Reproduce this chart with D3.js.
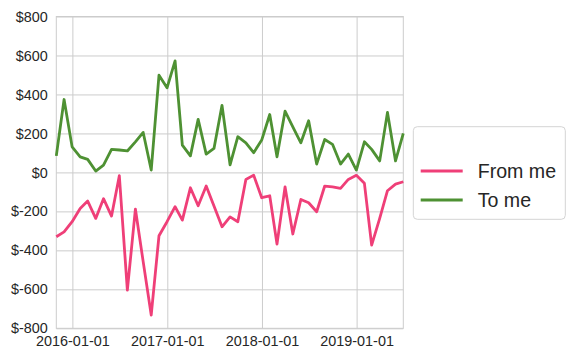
<!DOCTYPE html>
<html>
<head>
<meta charset="utf-8">
<script src="https://cdn.jsdelivr.net/npm/d3@7"></script>
<style>
  body { margin: 0; background: #fff; }
  text { font-family: "Liberation Sans", Arial, sans-serif; fill: #262626; }
  .grid line { stroke: #cccccc; stroke-width: 1; }
  .grid path { display: none; }
  .tick text { font-size: 14.4px; }
</style>
</head>
<body>
<div class="chart"></div>
<script>

//////////
// DATA //
//////////

// monthly totals, first month is Oct 2015 (month-end dates)
var firstMonth = '2015-10-31',
    monthCount = 45;

var fromMe = [-330, -305, -253, -185, -147, -236, -135, -224, -17, -604,
    -188, -458, -732, -325, -253, -176, -245, -79, -171, -70,
    -173, -279, -228, -253, -36, -14, -130, -120, -368, -74,
    -316, -139, -156, -202, -70, -74, -82, -36, -15, -56,
    -373, -236, -94, -60, -48];

var toMe = [85, 374, 131, 80, 67, 7, 37, 118, 115, 110,
    157, 205, 12, 499, 434, 572, 140, 85, 272, 94,
    123, 344, 39, 183, 152, 101, 166, 297, 80, 314,
    234, 152, 265, 43, 169, 144, 43, 94, 12, 157,
    118, 59, 308, 59, 200];

var yTicks = [-800, -600, -400, -200, 0, 200, 400, 600, 800];
var xTicks = ['2016-01-01', '2017-01-01', '2018-01-01', '2019-01-01'];

var seriesNames = ['From me', 'To me'],
    seriesColors = ['#ef3f78', '#4e9133'];

//////////////////////
// INITIAL SETTINGS //
//////////////////////

var W = 576, H = 360;
var plotLeft = 56.3, plotRight = 403.3, plotTop = 16.5, plotBottom = 328.3;

var parseDate = d3.utcParse('%Y-%m-%d'),
    formatDate = d3.utcFormat('%Y-%m-%d');

// month-end dates for each point
var startMonth = parseDate(firstMonth);
var dates = d3.range(monthCount).map(function(i) {
    return d3.utcDay.offset(d3.utcMonth.offset(d3.utcMonth.floor(startMonth), i + 1), -1);
});

///////////////////
// PAGE ELEMENTS //
///////////////////

var svg = d3.select('.chart')
    .append('svg')
    .attr('width', W)
    .attr('height', H);

////////////
// SCALES //
////////////

var xScale = d3.scaleUtc()
    .domain([dates[0], dates[dates.length - 1]])
    .range([plotLeft, plotRight]);

var yScale = d3.scaleLinear()
    .domain([-800, 800])
    .range([plotBottom, plotTop]);

//////////
// GRID //
//////////

svg.append('g')
    .attr('class', 'grid')
    .attr('transform', 'translate(0,' + plotBottom + ')')
    .call(d3.axisBottom(xScale)
        .tickValues(xTicks.map(parseDate))
        .tickSize(-(plotBottom - plotTop))
        .tickPadding(7)
        .tickFormat(formatDate))
    .call(function(g) { g.selectAll('text').attr('dy', '0.75em'); });

svg.append('g')
    .attr('class', 'grid')
    .attr('transform', 'translate(' + plotLeft + ',0)')
    .call(d3.axisLeft(yScale)
        .tickValues(yTicks)
        .tickSize(-(plotRight - plotLeft))
        .tickPadding(8.6)
        .tickFormat(function(d) { return '$' + d; }));

// frame
svg.append('rect')
    .attr('x', plotLeft)
    .attr('y', plotTop)
    .attr('width', plotRight - plotLeft)
    .attr('height', plotBottom - plotTop)
    .attr('fill', 'none')
    .attr('stroke', '#cccccc')
    .attr('stroke-width', 1);

///////////
// LINES //
///////////

var line = d3.line()
    .x(function(d, i) { return xScale(dates[i]); })
    .y(function(d) { return yScale(d); });

[fromMe, toMe].forEach(function(series, k) {
    svg.append('path')
        .datum(series)
        .attr('fill', 'none')
        .attr('stroke', seriesColors[k])
        .attr('stroke-width', 2.8)
        .attr('stroke-linejoin', 'round')
        .attr('d', line);
});

////////////
// LEGEND //
////////////

var legend = svg.append('g')
    .attr('class', 'legend');

legend.append('rect')
    .attr('x', 413.3)
    .attr('y', 126.7)
    .attr('width', 152)
    .attr('height', 92.6)
    .attr('rx', 4)
    .attr('fill', '#fff')
    .attr('stroke', '#d4d4d4')
    .attr('stroke-width', 1);

seriesNames.forEach(function(name, k) {
    var y = 171 + k * 29;
    legend.append('line')
        .attr('x1', 420.7)
        .attr('x2', 462.7)
        .attr('y1', y)
        .attr('y2', y)
        .attr('stroke', seriesColors[k])
        .attr('stroke-width', 2.8);
    legend.append('text')
        .attr('x', 477.7)
        .attr('y', y + 7.2)
        .style('font-size', '19.6px')
        .text(name);
});

</script>
</body>
</html>
